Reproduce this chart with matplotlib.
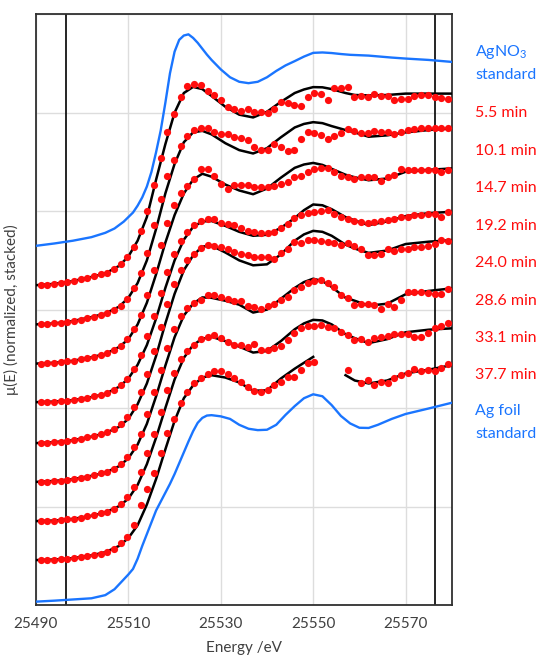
import numpy as np
import matplotlib.pyplot as plt

plt.rcParams['font.family'] = ['Lato', 'DejaVu Sans']

# energy grid of the time-resolved scans (dots)
energy = 25491.0 + 1.445 * np.arange(62)

# energy grid of the reference standards
energy_std = np.array([25490, 25494, 25498, 25502, 25505, 25507, 25509,
                       25510, 25511, 25512, 25513, 25514, 25515, 25516, 25517, 25518, 25519,
                       25520, 25521, 25522, 25523, 25524, 25525, 25526, 25527, 25528,
                       25530, 25532, 25534, 25536, 25538, 25540, 25542, 25544, 25546, 25548,
                       25550, 25552, 25554, 25556, 25558, 25560, 25562, 25564,
                       25567, 25570, 25575, 25580])

# energy grid of the linear-combination fits (lines)
energy_fit = np.array([25490, 25494, 25498, 25502, 25505, 25508, 25510, 25512, 25514, 25516,
                       25518, 25520, 25522, 25524, 25526, 25528, 25531, 25534, 25537, 25540,
                       25543, 25546, 25548, 25550, 25552, 25554, 25557, 25559, 25562, 25566,
                       25570, 25575, 25580])

# standards, normalized mu(E)
agno3 = [0.024, 0.036, 0.05, 0.068, 0.09, 0.112, 0.147,
         0.17, 0.193, 0.228, 0.27, 0.325, 0.40, 0.50, 0.61, 0.75, 0.9,
         1.01, 1.07, 1.092, 1.098, 1.08, 1.055, 1.025, 0.995, 0.968,
         0.92, 0.88, 0.857, 0.85, 0.857, 0.88, 0.912, 0.94, 0.962, 0.985,
         1.004, 1.006, 1.003, 0.998, 0.994, 0.992, 0.99, 0.986,
         0.98, 0.975, 0.968, 0.958]
ag_foil = [0.017, 0.022, 0.028, 0.034, 0.05, 0.08, 0.13,
           0.155, 0.183, 0.235, 0.30, 0.36, 0.42, 0.48, 0.525, 0.57, 0.615,
           0.665, 0.72, 0.775, 0.83, 0.882, 0.925, 0.95, 0.962, 0.964,
           0.958, 0.945, 0.915, 0.895, 0.888, 0.89, 0.915, 0.965, 1.01, 1.05,
           1.07, 1.06, 1.015, 0.96, 0.922, 0.9, 0.899, 0.915,
           0.945, 0.97, 0.998, 1.027]

times = ['5.5 min', '10.1 min', '14.7 min', '19.2 min', '24.0 min', '28.6 min', '33.1 min', '37.7 min']

# measured scans
scan_5_5 = [0.024, 0.027, 0.031, 0.036, 0.041, 0.047, 0.054, 0.062, 0.071, 0.080, 0.088,
            0.105, 0.13, 0.165, 0.22, 0.30, 0.40, 0.535, 0.67, 0.80, 0.895,
            0.98, 1.035, 1.047, 1.04, 1.01, 0.99, 0.965, 0.929, 0.921, 0.911,
            0.921, 0.904, 0.904, 0.896, 0.921, 0.955, 0.95, 0.938, 0.933, 0.98,
            1.0, 0.994, 0.967, 1.023, 1.023, 1.033, 0.98, 0.983, 0.98, 0.994,
            0.985, 0.985, 0.963, 0.972, 0.972, 0.985, 0.992, 0.989, 0.98, 0.977, 0.972]
scan_10_1 = [0.025, 0.027, 0.030, 0.034, 0.038, 0.043, 0.049, 0.056, 0.064, 0.072, 0.081,
             0.097, 0.12, 0.155, 0.21, 0.285, 0.39, 0.53, 0.66, 0.78, 0.86,
             0.93, 0.98, 1.011, 1.02, 1.02, 1.003, 0.994, 0.991, 0.977, 0.972,
             0.96, 0.927, 0.91, 0.91, 0.939, 0.925, 0.905, 0.912, 0.964, 1.003,
             0.995, 0.986, 0.969, 0.983, 0.996, 1.017, 1.006, 0.997, 0.997, 1.006,
             1.003, 1.003, 0.994, 1.003, 1.011, 1.015, 1.02, 1.02, 1.02, 1.02, 1.023]
scan_14_7 = [0.026, 0.028, 0.030, 0.033, 0.037, 0.041, 0.047, 0.054, 0.061, 0.069, 0.078,
             0.094, 0.117, 0.15, 0.20, 0.275, 0.375, 0.50, 0.63, 0.74, 0.83,
             0.89, 0.93, 0.965, 1.012, 1.012, 0.978, 0.94, 0.915, 0.932, 0.934,
             0.932, 0.923, 0.923, 0.923, 0.927, 0.937, 0.949, 0.974, 0.978, 1.0,
             1.012, 1.017, 1.017, 1.0, 0.98, 0.971, 0.961, 0.974, 0.974, 0.974,
             0.954, 0.971, 0.983, 1.013, 1.008, 1.008, 1.008, 1.008, 1.008, 1.0, 1.008]
scan_19_2 = [0.03, 0.031, 0.033, 0.035, 0.038, 0.042, 0.047, 0.053, 0.060, 0.068, 0.077,
             0.092, 0.115, 0.15, 0.20, 0.27, 0.365, 0.47, 0.585, 0.69, 0.78,
             0.85, 0.895, 0.929, 0.951, 0.959, 0.958, 0.941, 0.934, 0.929, 0.912,
             0.9, 0.892, 0.887, 0.887, 0.895, 0.912, 0.937, 0.963, 0.98, 0.991,
             0.997, 1.002, 1.005, 0.985, 0.972, 0.958, 0.951, 0.946, 0.941, 0.946,
             0.951, 0.954, 0.958, 0.968, 0.971, 0.98, 0.98, 0.985, 0.988, 0.971, 0.997]
scan_24_0 = [0.022, 0.024, 0.027, 0.030, 0.034, 0.039, 0.045, 0.052, 0.060, 0.069, 0.079,
             0.095, 0.12, 0.155, 0.205, 0.28, 0.375, 0.49, 0.61, 0.73, 0.83,
             0.9, 0.95, 0.985, 1.011, 1.027, 1.024, 1.019, 1.006, 0.993, 0.984,
             0.977, 0.968, 0.965, 0.965, 0.955, 0.988, 1.006, 1.044, 1.039, 1.056,
             1.056, 1.049, 1.044, 1.039, 1.03, 1.04, 1.022, 1.006, 0.977, 0.977,
             0.982, 1.006, 0.999, 1.006, 1.006, 1.016, 1.016, 1.022, 1.033, 1.053, 1.049]
scan_28_6 = [0.025, 0.027, 0.029, 0.032, 0.036, 0.040, 0.046, 0.052, 0.060, 0.068, 0.077,
             0.093, 0.116, 0.15, 0.2, 0.27, 0.37, 0.48, 0.595, 0.705, 0.8,
             0.87, 0.91, 0.935, 0.948, 0.974, 0.974, 0.965, 0.952, 0.943, 0.942,
             0.918, 0.914, 0.901, 0.918, 0.931, 0.948, 0.965, 0.999, 1.013, 1.033,
             1.046, 1.05, 1.036, 1.013, 0.974, 0.958, 0.923, 0.928, 0.928, 0.923,
             0.901, 0.93, 0.911, 0.948, 0.99, 0.99, 0.99, 0.982, 0.979, 0.979, 1.003]
scan_33_1 = [0.026, 0.027, 0.029, 0.032, 0.035, 0.039, 0.044, 0.05, 0.057, 0.065, 0.074,
             0.09, 0.113, 0.148, 0.2, 0.275, 0.37, 0.47, 0.58, 0.69, 0.78,
             0.85, 0.89, 0.92, 0.949, 0.959, 0.971, 0.954, 0.937, 0.92, 0.922,
             0.911, 0.925, 0.894, 0.894, 0.903, 0.915, 0.945, 0.979, 1.005, 1.016,
             1.016, 1.021, 1.013, 1.005, 0.987, 0.971, 0.945, 0.949, 0.937, 0.954,
             0.959, 0.965, 0.976, 0.976, 0.976, 0.959, 0.959, 0.979, 1.005, 1.016, 1.03]
scan_37_7 = [0.028, 0.029, 0.031, 0.033, 0.035, 0.038, 0.042, 0.047, 0.053, 0.06, 0.07,
             0.085, 0.115, 0.145, 0.205, 0.31, 0.39, 0.47, 0.57, 0.675, 0.745,
             0.825, 0.88, 0.925, 0.952, 0.975, 0.99, 0.99, 0.975, 0.955, 0.934,
             0.908, 0.888, 0.883, 0.891, 0.917, 0.934, 0.959, 0.959, 0.993, 1.027,
             1.035, np.nan, np.nan, np.nan, np.nan, 0.992, np.nan, 0.928, 0.942, 0.917,
             0.933, 0.928, 0.951, 0.968, 0.979, 0.996, 0.989, 0.993, 0.989, 1.001, 1.022]

# linear-combination fits
fit_5_5 = [0.024, 0.031, 0.045, 0.066, 0.084, 0.122, 0.17, 0.25, 0.37, 0.56, 0.74, 0.90,
           1.0, 1.031, 1.02, 0.985, 0.93, 0.89, 0.876, 0.905, 0.955, 1.0, 1.018, 1.03, 1.029,
           1.02, 1.0, 0.99, 0.988, 0.99, 0.997, 0.997, 0.997]
fit_10_1 = [0.025, 0.03, 0.042, 0.062, 0.08, 0.115, 0.16, 0.235, 0.35, 0.51, 0.69, 0.84,
            0.95, 1.0, 1.008, 0.99, 0.945, 0.91, 0.893, 0.92, 0.975, 1.025, 1.043, 1.052, 1.047,
            1.032, 1.012, 1.0, 0.978, 0.985, 1.0, 1.012, 1.02]
fit_14_7 = [0.026, 0.03, 0.04, 0.058, 0.075, 0.11, 0.15, 0.225, 0.335, 0.48, 0.64, 0.78,
            0.89, 0.96, 0.99, 0.975, 0.935, 0.905, 0.886, 0.915, 0.97, 1.02, 1.037, 1.045, 1.035,
            1.015, 0.985, 0.972, 0.957, 0.966, 1.0, 1.01, 1.017]
fit_19_2 = [0.03, 0.033, 0.04, 0.056, 0.072, 0.108, 0.15, 0.22, 0.32, 0.455, 0.61, 0.75,
            0.855, 0.92, 0.948, 0.95, 0.925, 0.895, 0.875, 0.88, 0.915, 0.965, 1.005, 1.034, 1.03,
            1.01, 0.97, 0.953, 0.929, 0.948, 0.975, 0.99, 0.997]
fit_24_0 = [0.022, 0.027, 0.037, 0.055, 0.072, 0.105, 0.145, 0.22, 0.325, 0.465, 0.63, 0.78,
            0.9, 0.975, 1.02, 1.025, 0.99, 0.95, 0.925, 0.93, 0.98, 1.05, 1.082, 1.1, 1.095,
            1.075, 1.03, 1.01, 0.988, 1.0, 1.033, 1.045, 1.053]
fit_28_6 = [0.025, 0.03, 0.039, 0.056, 0.072, 0.105, 0.145, 0.215, 0.32, 0.46, 0.615, 0.76,
            0.87, 0.93, 0.962, 0.96, 0.945, 0.925, 0.885, 0.9, 0.955, 1.01, 1.04, 1.057, 1.045,
            1.015, 0.96, 0.945, 0.92, 0.93, 0.978, 0.995, 1.008]
fit_33_1 = [0.026, 0.029, 0.037, 0.053, 0.07, 0.102, 0.14, 0.21, 0.315, 0.45, 0.6, 0.745,
            0.855, 0.92, 0.952, 0.962, 0.94, 0.912, 0.882, 0.89, 0.94, 1.0, 1.03, 1.048, 1.045,
            1.025, 0.975, 0.955, 0.93, 0.95, 0.985, 0.998, 1.005]
fit_37_7 = [0.028, 0.031, 0.038, 0.052, 0.068, 0.1, 0.14, 0.205, 0.31, 0.44, 0.59, 0.735,
            0.85, 0.915, 0.955, 0.967, 0.955, 0.93, 0.888, 0.89, 0.95, 1.0, 1.03, 1.06, np.nan,
            np.nan, 0.967, 0.94, 0.925, 0.94, 0.976, 0.995, 1.018]

scans = [scan_5_5, scan_10_1, scan_14_7, scan_19_2, scan_24_0, scan_28_6, scan_33_1, scan_37_7]
fits = [fit_5_5, fit_10_1, fit_14_7, fit_19_2, fit_24_0, fit_28_6, fit_33_1, fit_37_7]

# energy window used for the fits
fit_window = [25496.4, 25576.3]

blue = '#1a75ff'
red = '#ff0d0d'
step = 0.2

fig = plt.figure(figsize=(5.45, 6.63), dpi=100)
ax = fig.add_axes([0.066, 0.0875, 0.763, 0.891])

ax.plot(energy_std, np.array(ag_foil), color=blue, lw=1.7, zorder=3)
ax.plot(energy_std, np.array(agno3) + 9 * step, color=blue, lw=1.7, zorder=3)

for i, (scan, fit) in enumerate(zip(scans, fits)):
    shift = (8 - i) * step
    ax.plot(energy_fit, np.array(fit) + shift, color='black', lw=1.8, zorder=3)
    ax.plot(energy, np.array(scan) + shift, 'o', color=red, ms=5.2, mew=0, zorder=4)

for e in fit_window:
    ax.axvline(e, color='black', lw=1.2, zorder=2)

ax.set_xlim(25490, 25580)
ax.set_ylim(0, 3)
ax.set_xticks(np.arange(25490, 25571, 20))
ax.set_yticks(np.arange(0, 3.01, 0.5))
ax.set_yticklabels([])
ax.tick_params(axis='both', length=0, labelsize=11, colors='#404040', pad=9)
ax.grid(True, color='#dddddd', lw=1)
ax.set_axisbelow(True)
for sp in ax.spines.values():
    sp.set_color('#303030')
    sp.set_linewidth(1.3)

ax.set_xlabel('Energy /eV', fontsize=11, color='#404040', labelpad=7)
ax.set_ylabel('\u03bc(E) (normalized, stacked)', fontsize=11, color='#404040')
ax.yaxis.set_label_coords(-0.04, 0.5)

# series labels to the right of the plot
tr = ax.get_yaxis_transform()
lx = 1.056
ax.text(lx, 2.807, r'AgNO$_{\mathregular{3}}$', color=blue, fontsize=11.5, transform=tr,
        va='center', ha='left')
ax.text(lx, 2.69, 'standard', color=blue, fontsize=11.5, transform=tr, va='center', ha='left')
for i, t in enumerate(times):
    ax.text(lx, 2.497 - 0.1902 * i, t, color=red, fontsize=11.5, transform=tr,
            va='center', ha='left')
ax.text(lx, 0.986, 'Ag foil', color=blue, fontsize=11.5, transform=tr, va='center', ha='left')
ax.text(lx, 0.87, 'standard', color=blue, fontsize=11.5, transform=tr, va='center', ha='left')

fig.savefig('out.png', dpi=100)
